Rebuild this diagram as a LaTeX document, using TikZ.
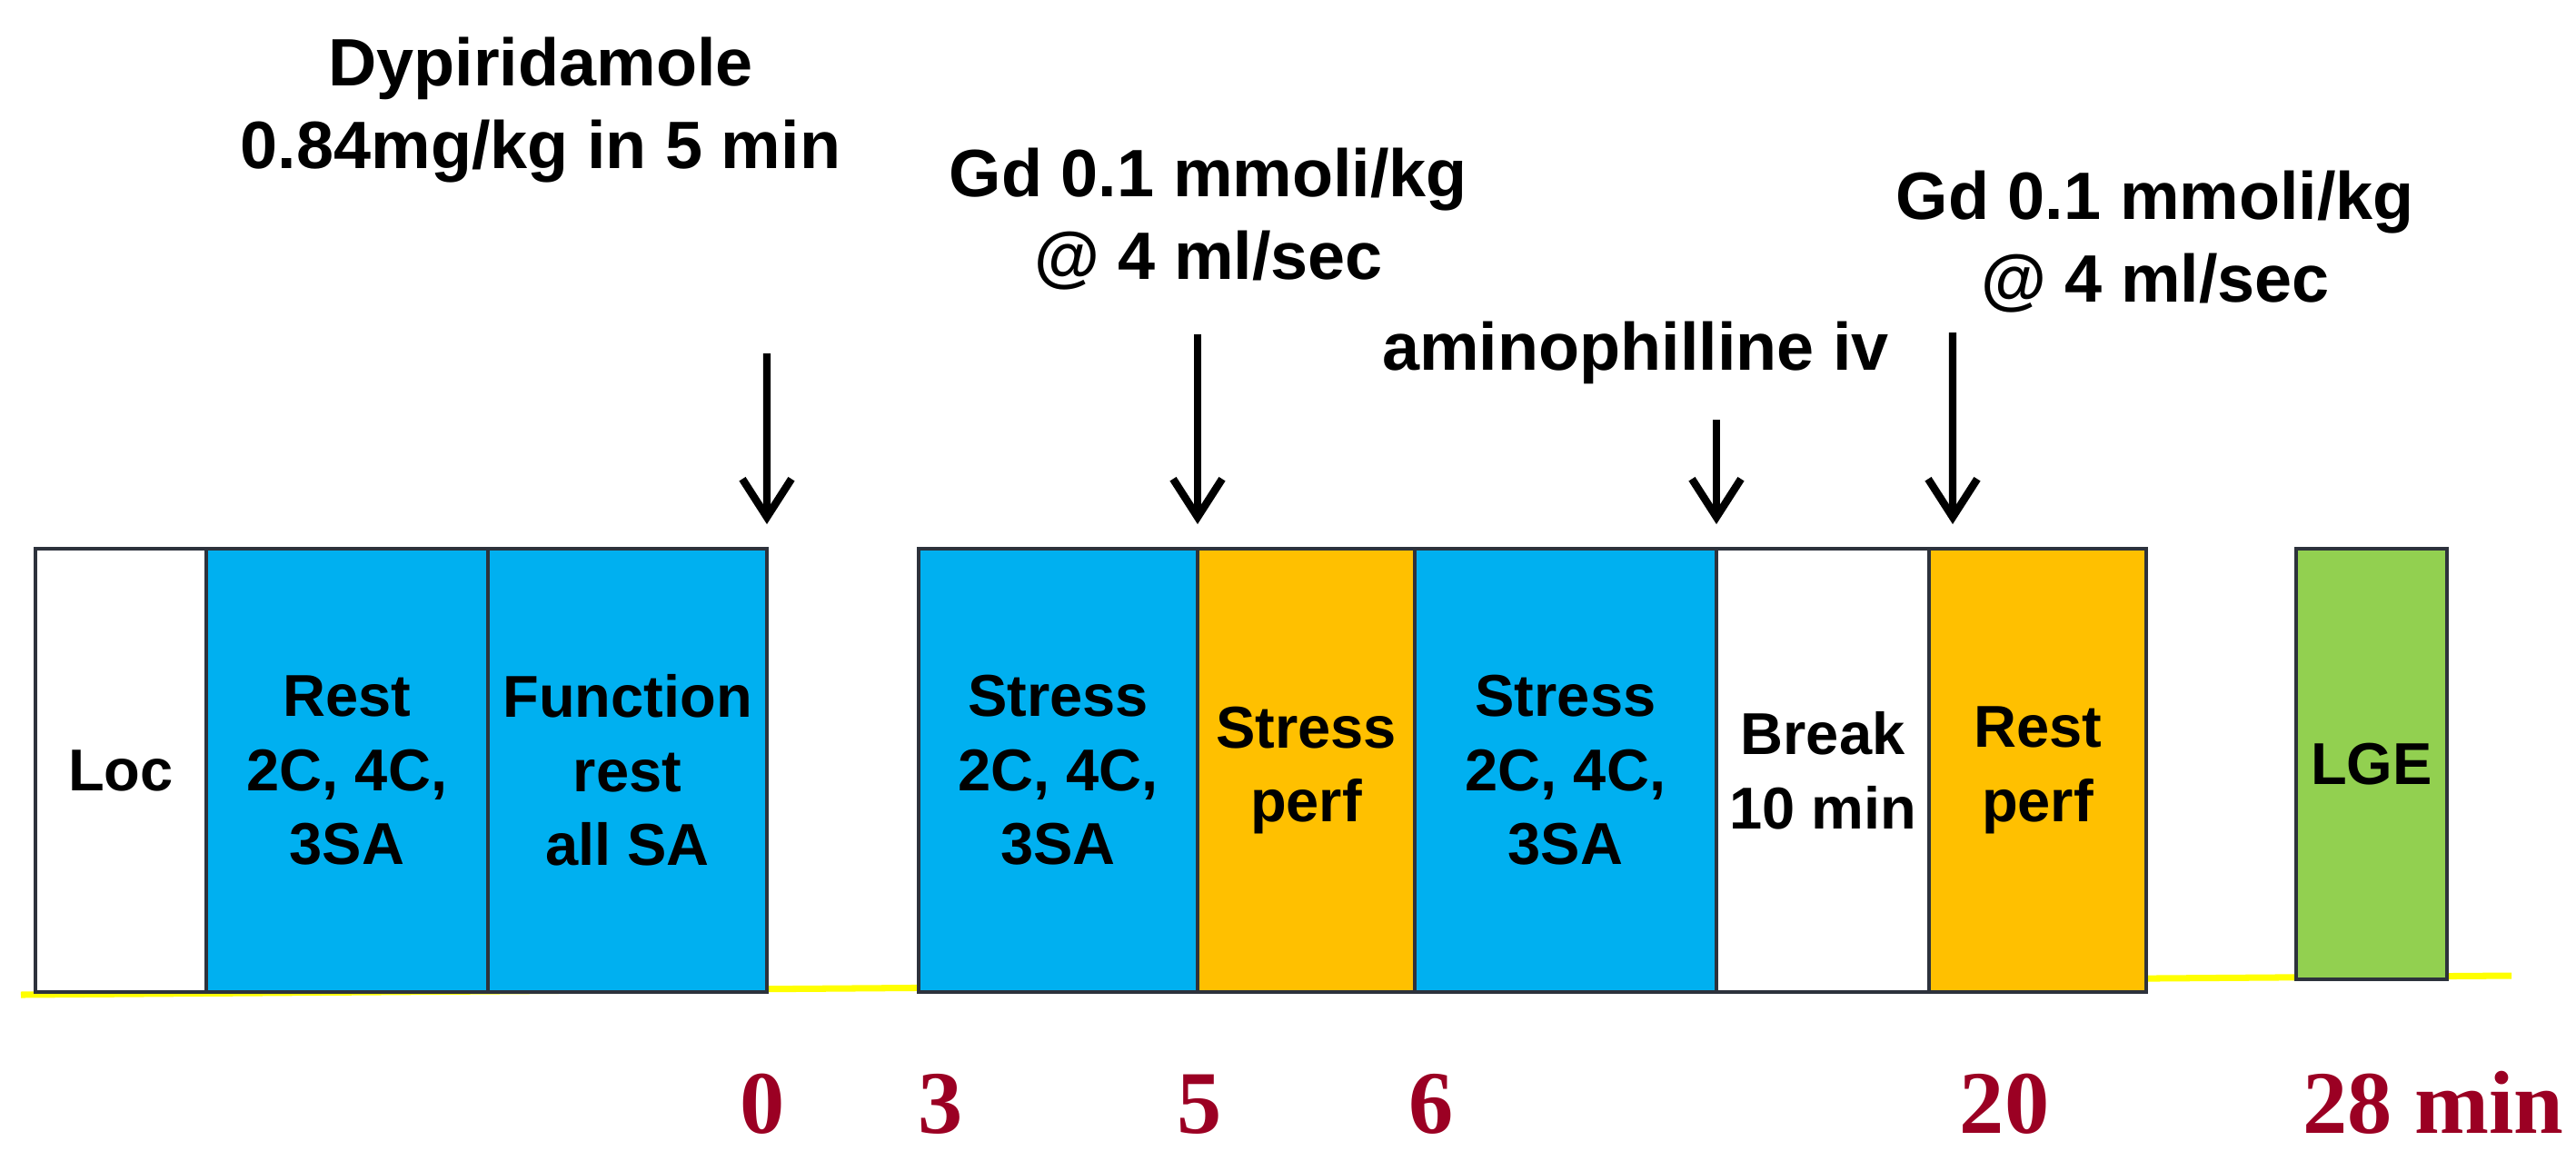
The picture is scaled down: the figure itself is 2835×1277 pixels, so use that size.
\documentclass[tikz,border=0pt]{standalone}
\usepackage{fontspec}
\setmainfont{Liberation Sans}
\newfontfamily\numfont{Liberation Serif}
\usetikzlibrary{arrows.meta}
\definecolor{B1}{RGB}{0,176,240}
\definecolor{O1}{RGB}{255,192,0}
\definecolor{G1}{RGB}{146,208,80}
\definecolor{Y1}{RGB}{255,255,0}
\definecolor{R1}{RGB}{155,0,35}
\definecolor{E1}{RGB}{45,50,60}

\begin{document}
\begin{tikzpicture}[x=0.1mm, y=-0.1mm,
    stage/.style={draw=E1, line width=1.1pt, anchor=north west, minimum height=4.88cm,
                  inner sep=0pt, outer sep=0pt, align=center,
                  font=\fontsize{18.5}{23.2}\selectfont\bfseries},
    drug/.style={align=center, font=\fontsize{21}{26}\selectfont\bfseries},
    timelbl/.style={anchor=base, text=R1, inner sep=0pt, font=\fontsize{28}{28}\selectfont\numfont\bfseries},
    inject/.style={line width=2.4pt, -{Straight Barb[length=4.2mm,width=5.4mm]}, shorten >=2.7mm}]
          \useasboundingbox (0,0) rectangle (2835,1277);
          % time axis
          \coordinate (axisL) at (23,1095);
          \coordinate (axisR) at (2764,1074);
          \draw[Y1, line width=2pt] (axisL) -- (axisR);
          % sequence blocks
          \node[stage, fill=white, minimum width=1.88cm] (loc) at (39,604) {Loc};
          \node[stage, fill=B1, minimum width=3.10cm] (rest) at (227,604) {Rest\\2C, 4C,\\3SA};
          \node[stage, fill=B1, minimum width=3.07cm] (func) at (537,604) {Function\\rest\\all SA};
          \node[stage, fill=B1, minimum width=3.07cm] (stressA) at (1011,604) {Stress\\2C, 4C,\\3SA};
          \node[stage, fill=O1, minimum width=2.39cm] (stressPerf) at (1318,604) {Stress\\perf};
          \node[stage, fill=B1, minimum width=3.32cm] (stressB) at (1557,604) {Stress\\2C, 4C,\\3SA};
          \node[stage, fill=white, minimum width=2.34cm] (brk) at (1889,604) {Break\\10 min};
          \node[stage, fill=O1, minimum width=2.39cm] (restPerf) at (2123,604) {Rest\\perf};
          \node[stage, fill=G1, minimum width=1.66cm, minimum height=4.74cm] (lge) at (2527,604) {LGE};
          % drugs
          \node[drug] (dipy) at (595,121) {Dypiridamole\\0.84mg/kg in 5 min};
          \node[drug] (gdA) at (1330,241) {Gd 0.1 mmoli/kg\\@ 4 ml/sec};
          \node[drug] (amino) at (1800,388) {aminophilline iv};
          \node[drug] (gdB) at (2372,266) {Gd 0.1 mmoli/kg\\@ 4 ml/sec};
          \coordinate (dipyTop) at (844,389);
          \coordinate (gdATop) at (1318,368);
          \coordinate (aminoTop) at (1889,462);
          \coordinate (gdBTop) at (2149,366);
          \draw[inject] (dipyTop) -- (func.north east);
          \draw[inject] (gdATop) -- (stressPerf.north west);
          \draw[inject] (aminoTop) -- (brk.north west);
          \draw[inject] (gdBTop) -- ([xshift=2.6mm]restPerf.north west);
          % minutes
          \node[timelbl] (t0) at (839,1247) {0};
          \node[timelbl] (t3) at (1035,1247) {3};
          \node[timelbl] (t5) at (1320,1247) {5};
          \node[timelbl] (t6) at (1575,1247) {6};
          \node[timelbl] (t20) at (2206,1247) {20};
          \node[timelbl] (t28) at (2678,1247) {28 min};
\end{tikzpicture}
\end{document}
